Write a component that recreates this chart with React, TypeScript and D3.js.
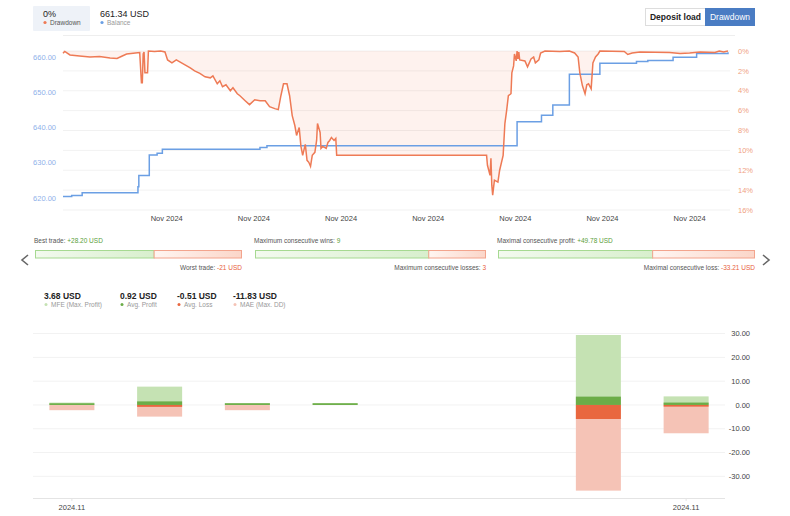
import React from "react";
import * as d3 from "d3";

// ---------- Top chart data (t = days since start) ----------
const balanceT = [0, 0.10, 0.22, 0.86, 0.87, 0.99, 1.08, 1.14, 2.26, 2.34, 5.21, 5.49, 5.62, 5.81, 6.16, 6.58, 6.71, 7.00, 7.27, 7.63];
const balanceV = [620.4, 620.7, 621.5, 623.2, 626.4, 632.2, 632.7, 633.8, 634.3, 634.8, 641.6, 643.5, 646.4, 655.1, 658.2, 658.7, 659.0, 659.9, 661.0, 661.34];

const drawdownT = [0, 0.02, 0.08, 0.19, 0.31, 0.42, 0.54, 0.62, 0.68, 0.73, 0.83, 0.88, 0.90, 0.91, 0.92, 0.93, 0.94, 0.95, 0.97, 0.98, 1.05, 1.12, 1.17,
  1.20, 1.25, 1.30, 1.34, 1.40, 1.46, 1.51, 1.57, 1.63, 1.69, 1.72, 1.77, 1.80, 1.83, 1.87, 1.92, 1.95, 2.00, 2.03, 2.09, 2.14, 2.20, 2.26, 2.32, 2.37, 2.43, 2.47,
  2.50, 2.53, 2.57, 2.60, 2.63, 2.66, 2.68, 2.71, 2.73, 2.75, 2.78, 2.80, 2.82, 2.84, 2.86, 2.89, 2.91, 2.92, 2.95, 2.96, 2.98, 3.02, 3.04, 3.06, 3.08, 3.11, 3.13, 3.14,
  4.86, 4.87, 4.90, 4.91, 4.92, 4.93, 4.95, 4.99, 5.01, 5.05, 5.07, 5.09, 5.11, 5.14, 5.15, 5.17, 5.18, 5.20, 5.21, 5.22, 5.23, 5.24, 5.30, 5.33, 5.37, 5.40, 5.42, 5.46, 5.48,
  5.53, 5.70, 5.81, 5.87, 5.91, 5.93, 5.96, 5.99, 6.01, 6.03, 6.06, 6.08, 6.11, 6.14, 6.16, 6.44, 6.48, 6.53, 6.62, 6.96, 7.08, 7.19, 7.31, 7.48, 7.53, 7.58, 7.63];
const drawdownV = [0.23, 0.05, 0.4, 0.5, 0.6, 0.55, 0.7, 0.75, 0.5, 0.3, 0.2, 0.15, 3.2, 3.2, 0.3, 0.1, 2.2, 2.2, 2.2, 0, 0.05, 0, 0.1,
  0.9, 1.2, 0.9, 1.1, 1.4, 1.7, 2.0, 2.25, 2.6, 2.7, 2.5, 3.3, 3.0, 3.6, 3.4, 4.0, 3.7, 4.3, 4.5, 5.0, 5.4, 4.9, 5.0, 5.0, 5.6, 5.8, 5.9,
  4.5, 3.3, 3.3, 4.5, 6.5, 7.5, 8.5, 7.7, 9.6, 10.5, 9.4, 11.0, 11.2, 11.6, 10.5, 10.2, 9.0, 7.3, 8.2, 9.8, 9.6, 9.8, 9.2, 9.0, 8.7, 9.0, 8.8, 10.5,
  10.5, 11.5, 12.5, 10.8, 13.5, 14.5, 13.0, 13.2, 12.0, 10.5, 7.3, 6.0, 4.5, 4.3, 2.2, 1.5, 0.3, 1.0, 0.0, 0.8, 0.1, 0.9, 1.0, 1.6, 0.8, 0.6, 1.2, 0.9, 0.2,
  0.0, 0.05, 0.0, 0.2, 0.6, 2.2, 3.5, 4.3, 3.4, 3.3, 3.8, 1.2, 0.6, 0.3, 0.0, 0.05, 0.35, 0.2, 0.1, 0.15, 0.25, 0.2, 0.1, 0.15, 0.0, 0.1, 0.0];

const startDate = new Date(2024, 10, 1, 19, 22);
const tickDays = [1.19, 2.19, 3.19, 4.19, 5.19, 6.19, 7.19];
const tickLabel = "Nov 2024";
const balanceTicks = [620, 630, 640, 650, 660];
const drawdownTicks = [0, 2, 4, 6, 8, 10, 12, 14, 16];

// ---------- Stats ----------
const statLabelsTop = ["Best trade: ", "Maximum consecutive wins: ", "Maximal consecutive profit: "];
const statValuesTop = ["+28.20 USD", "9", "+49.78 USD"];
const statLabelsBottom = ["Worst trade: ", "Maximum consecutive losses: ", "Maximal consecutive loss: "];
const statValuesBottom = ["-21 USD", "3", "-33.21 USD"];
const statPositive = [28.2, 9, 49.78];
const statNegative = [21, 3, 33.21];

// ---------- Bottom chart data ----------
const periods = ["p1", "p2", "p3", "p4", "p5", "p6", "p7", "p8"];
const periodTickLabels = ["2024.11", "", "", "", "", "", "", "2024.11"];
const mfe = [1.0, 7.7, 0.8, 0.8, null, null, 29.4, 3.6];
const avgProfit = [0.7, 1.5, 0.7, 0.7, null, null, 3.5, 1.0];
const avgLoss = [0, -0.8, 0, 0, null, null, -5.9, -0.7];
const mae = [-2.2, -4.9, -2.2, 0, null, null, -36, -11.9];
const legendValues = ["3.68 USD", "0.92 USD", "-0.51 USD", "-11.83 USD"];
const legendNames = ["MFE (Max. Profit)", "Avg. Profit", "Avg. Loss", "MAE (Max. DD)"];
const bottomTicks = [-30, -20, -10, 0, 10, 20, 30];

const C = {
  dd: "#ee7a55",
  ddFill: "#fef2ee",
  bal: "#6b9fe4",
  balLabel: "#8fb1ea",
  ddLabel: "#f0a283",
  grid: "rgba(0,0,0,0.055)",
  mfe: "#c5e2b3",
  prof: "#6cad48",
  loss: "#e9673f",
  mae: "#f5c3b6",
};

const FONT = "'Liberation Sans', Arial, sans-serif";

export default function App() {
  const W = 790, H = 516;
  const day = 86400000;
  const toDate = (t: number) => new Date(startDate.getTime() + t * day);

  const x = d3.scaleTime().domain([toDate(0), toDate(7.63)]).range([63, 728]);
  const yBal = d3.scaleLinear().domain([616.6, 661.7]).range([210, 51]);
  const yDD = d3.scaleLinear().domain([0, 16]).range([51, 210]);

  const balData = balanceT.map((t, i) => ({ d: toDate(t), v: balanceV[i] }));
  const ddData = drawdownT.map((t, i) => ({ d: toDate(t), v: drawdownV[i] }));

  const balLine = d3.line<any>().x(p => x(p.d)).y(p => yBal(p.v)).curve(d3.curveStepAfter)(balData) || "";
  const ddLine = d3.line<any>().x(p => x(p.d)).y(p => yDD(p.v))(ddData) || "";
  const ddArea = d3.area<any>().x(p => x(p.d)).y0(yDD(0)).y1(p => yDD(p.v))(ddData) || "";

  // bottom chart
  const xb = d3.scaleBand<string>().domain(periods).range([28, 730]).paddingInner(0.487).paddingOuter(0.2435);
  const yb = d3.scaleLinear().domain([-39.1, 33.6]).range([498, 325]);

  const barRect = (i: number, v: number | null, color: string, key: string) => {
    if (v === null || v === 0) return null;
    const y0 = yb(0), y1 = yb(v);
    return <rect key={key} x={xb(periods[i])} width={xb.bandwidth()} y={Math.min(y0, y1)} height={Math.abs(y1 - y0)} fill={color} />;
  };

  const statGroups = [
    { x0: 35, x1: 242 },
    { x0: 255, x1: 486 },
    { x0: 498, x1: 755 },
  ];

  return (
    <svg width={W} height={H} style={{ position: "absolute", left: 0, top: 0, background: "#fff" }} fontFamily={FONT}>
      <defs>
        <linearGradient id="gGreen" x1="0" x2="1" y1="0" y2="0">
          <stop offset="0" stopColor="#f3faef" />
          <stop offset="1" stopColor="#d8efcd" />
        </linearGradient>
        <linearGradient id="gRed" x1="0" x2="1" y1="0" y2="0">
          <stop offset="0" stopColor="#fff5f1" />
          <stop offset="1" stopColor="#fbd6c9" />
        </linearGradient>
      </defs>

      {/* header */}
      <rect x={33} y={6} width={57} height={25} fill="#eef2f8" rx={1} />
      <text x={43} y={17} fontSize={9} fill="#222">0%</text>
      <circle cx={45} cy={22.5} r={1.6} fill={C.dd} />
      <text x={50} y={25} fontSize={6.5} fill="#555">Drawdown</text>
      <text x={100} y={17} fontSize={9} fill="#222">661.34 USD</text>
      <circle cx={102} cy={22.5} r={1.6} fill={C.bal} />
      <text x={107} y={25} fontSize={6.5} fill="#999">Balance</text>

      <rect x={645.5} y={8.5} width={60} height={17} fill="#fff" stroke="#ddd" />
      <text x={675.5} y={20} fontSize={8.5} fill="#222" textAnchor="middle" fontWeight={600}>Deposit load</text>
      <rect x={705} y={8} width={50} height={18} fill="#4a7cc3" />
      <text x={730} y={20} fontSize={8.5} fill="#fff" textAnchor="middle">Drawdown</text>

      <line x1={63} x2={735} y1={35.5} y2={35.5} stroke="#eeeeee" />

      {/* top chart */}
      <path d={ddArea} fill={C.ddFill} />
      {drawdownTicks.map(t => (
        <line key={"g" + t} x1={63} x2={730} y1={yDD(t)} y2={yDD(t)} stroke={C.grid} strokeWidth={1} />
      ))}
      <path d={balLine} fill="none" stroke={C.bal} strokeWidth={1.5} />
      <path d={ddLine} fill="none" stroke={C.dd} strokeWidth={1.5} />

      {balanceTicks.map(t => (
        <text key={"bl" + t} x={56} y={yBal(t)} dy="0.35em" fontSize={7.5} fill={C.balLabel} textAnchor="end">{t.toFixed(2)}</text>
      ))}
      {drawdownTicks.map(t => (
        <text key={"dl" + t} x={738} y={yDD(t)} dy="0.35em" fontSize={7.5} fill={C.ddLabel}>{t}%</text>
      ))}
      {tickDays.map((t, i) => (
        <text key={"xt" + i} x={x(toDate(t))} y={221} fontSize={7.5} fill="#444" textAnchor="middle">{tickLabel}</text>
      ))}

      {/* stats bars */}
      {statGroups.map((g, i) => {
        const s = d3.scaleLinear().domain([0, statPositive[i] + statNegative[i]]).range([g.x0, g.x1]);
        const mid = s(statPositive[i]);
        return (
          <g key={"st" + i}>
            <text x={g.x0 - 1} y={243} fontSize={6.5} fill="#555">
              {statLabelsTop[i]}<tspan fill="#5a9e3a">{statValuesTop[i]}</tspan>
            </text>
            <rect x={g.x0 + 0.5} y={250.5} width={mid - g.x0} height={7.5} fill="url(#gGreen)" stroke="#a6d991" />
            <rect x={mid + 0.5} y={250.5} width={g.x1 - mid - 1} height={7.5} fill="url(#gRed)" stroke="#f3a48d" />
            <text x={g.x1} y={270} fontSize={6.5} fill="#555" textAnchor="end">
              {statLabelsBottom[i]}<tspan fill="#e8603c">{statValuesBottom[i]}</tspan>
            </text>
          </g>
        );
      })}
      <path d="M28,255 L22,260 L28,265" fill="none" stroke="#666" strokeWidth={1.6} />
      <path d="M763,255 L769,260 L763,265" fill="none" stroke="#666" strokeWidth={1.6} />

      {/* bottom legend */}
      {legendValues.map((v, i) => {
        const lx = [44, 120, 177, 233][i];
        const col = [C.mfe, C.prof, C.loss, C.mae][i];
        return (
          <g key={"lg" + i}>
            <text x={lx} y={299} fontSize={8.5} fill="#222" fontWeight={600}>{v}</text>
            <circle cx={lx + 2} cy={304.5} r={1.5} fill={col} />
            <text x={lx + 7} y={307} fontSize={6.5} fill="#999">{legendNames[i]}</text>
          </g>
        );
      })}

      {/* bottom chart grid */}
      {bottomTicks.map(t => (
        <line key={"bg" + t} x1={33} x2={725} y1={yb(t)} y2={yb(t)} stroke={C.grid} />
      ))}
      <line x1={33} x2={725} y1={498.5} y2={498.5} stroke="#e4e4e4" />
      {bottomTicks.map(t => (
        <text key={"bt" + t} x={750} y={yb(t)} dy="0.35em" fontSize={7.5} fill="#444" textAnchor="end">{t.toFixed(2)}</text>
      ))}
      {periods.map((p, i) => (
        <g key={"bar" + i}>
          {barRect(i, mfe[i], C.mfe, "mfe")}
          {barRect(i, mae[i], C.mae, "mae")}
          {barRect(i, avgProfit[i], C.prof, "pr")}
          {barRect(i, avgLoss[i], C.loss, "ls")}
        </g>
      ))}
      {periods.map((p, i) => periodTickLabels[i] ? (
        <g key={"pt" + i}>
          <line x1={(xb(p) || 0) + xb.bandwidth() / 2} x2={(xb(p) || 0) + xb.bandwidth() / 2} y1={498} y2={501} stroke="#e4e4e4" />
          <text x={(xb(p) || 0) + xb.bandwidth() / 2} y={510} fontSize={7.5} fill="#444" textAnchor="middle">{periodTickLabels[i]}</text>
        </g>
      ) : null)}
    </svg>
  );
}
